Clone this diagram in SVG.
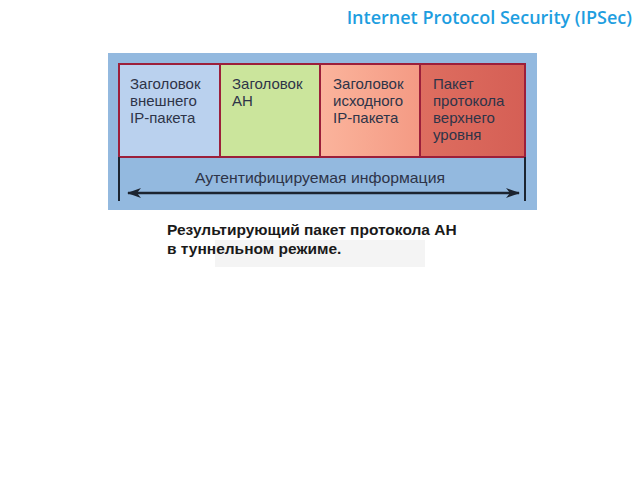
<svg xmlns="http://www.w3.org/2000/svg" width="640" height="480" viewBox="0 0 640 480">
<defs>
<style>
.bx{font-family:"Liberation Sans","DejaVu Sans",sans-serif;font-size:15px;fill:#2e3448}
.cap{font-family:"Liberation Sans","DejaVu Sans",sans-serif;font-size:15.5px;font-weight:bold;fill:#1a1a1a}
.cell{stroke:#9c1f3a;stroke-width:2}
</style>
<linearGradient id="g3" x1="0" y1="0" x2="1" y2="0"><stop offset="0" stop-color="#fbb49c"/><stop offset="1" stop-color="#f49a84"/></linearGradient>
<linearGradient id="g4" x1="0" y1="0" x2="1" y2="0"><stop offset="0" stop-color="#de6e60"/><stop offset="1" stop-color="#d55f55"/></linearGradient>
<marker id="ah" markerWidth="14" markerHeight="10" refX="13" refY="5" orient="auto-start-reverse" markerUnits="userSpaceOnUse"><path d="M0,0 L14,5 L0,10 L4,5 Z" fill="#1c2430"/></marker>
</defs>
<rect width="640" height="480" fill="#ffffff"/>
<text x="632" y="24" text-anchor="end" font-family="'Open Sans','Noto Sans',sans-serif" font-size="18" font-weight="600" fill="#1e9ee0">Internet Protocol Security (IPSec)</text>
<g id="packet">
<rect x="108" y="53" width="429" height="157" fill="#93b9df"/>
<g id="cell1"><rect class="cell" x="119" y="64" width="101" height="93" fill="#bad1ee"/>
<text class="bx" x="130" y="89">Заголовок</text><text class="bx" x="130" y="106">внешнего</text><text class="bx" x="130" y="123">IP-пакета</text></g>
<g id="cell2"><rect class="cell" x="220" y="64" width="100" height="93" fill="#cbe59c"/>
<text class="bx" x="232" y="89">Заголовок</text><text class="bx" x="232" y="106">АН</text></g>
<g id="cell3"><rect class="cell" x="320" y="64" width="100" height="93" fill="url(#g3)"/>
<text class="bx" x="333" y="89">Заголовок</text><text class="bx" x="333" y="106">исходного</text><text class="bx" x="333" y="123">IP-пакета</text></g>
<g id="cell4"><rect class="cell" x="420" y="64" width="105" height="93" fill="url(#g4)"/>
<text class="bx" x="433" y="89">Пакет</text><text class="bx" x="433" y="106">протокола</text><text class="bx" x="433" y="123">верхнего</text><text class="bx" x="433" y="140">уровня</text></g>
<g id="connectors">
<line x1="119" y1="157" x2="119" y2="201" stroke="#1c2430" stroke-width="2"/>
<line x1="525" y1="157" x2="525" y2="201" stroke="#1c2430" stroke-width="2"/>
<line x1="128" y1="193" x2="519" y2="193" stroke="#1c2430" stroke-width="2.5" marker-start="url(#ah)" marker-end="url(#ah)"/>
</g>
<text class="bx" x="320" y="183" text-anchor="middle" textLength="250" lengthAdjust="spacingAndGlyphs">Аутентифицируемая информация</text>
</g>
<rect x="215" y="240" width="210" height="27" fill="#f4f4f4"/>
<text class="cap" x="167" y="235">Результирующий пакет протокола АН</text>
<text class="cap" x="167" y="254">в туннельном режиме.</text>
</svg>
